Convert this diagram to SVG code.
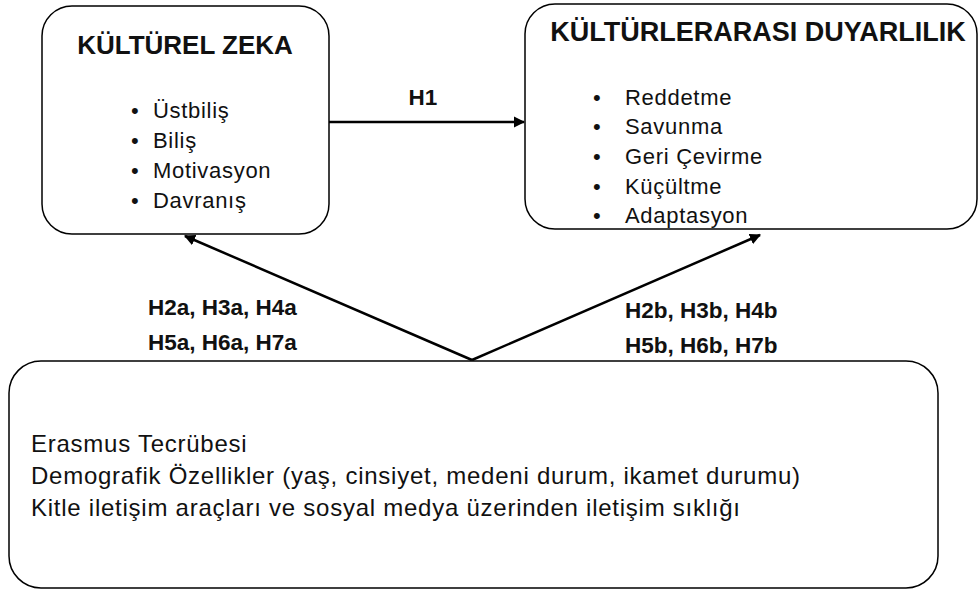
<svg xmlns="http://www.w3.org/2000/svg" width="980" height="592" viewBox="0 0 980 592">
<style>
.box{fill:#fff;stroke:#000;stroke-width:1.5}
.t{font-family:"Liberation Sans",Arial,sans-serif;fill:#111}
.title{font-weight:bold}
.item{font-size:22px;letter-spacing:0.7px}
.lab{font-size:22.5px;font-weight:bold}
.body{font-size:24px;letter-spacing:0.75px}
.edge{stroke:#000;stroke-width:2.5;fill:none}
</style>
<defs>
<marker id="ah" viewBox="0 0 10 10" refX="9" refY="5" markerWidth="4.5" markerHeight="4.5" orient="auto" markerUnits="strokeWidth">
<path d="M0,0 L10,5 L0,10 z" fill="#000"/>
</marker>
</defs>
<rect width="980" height="592" fill="#fff"/>
<g id="edges">
<line class="edge" x1="329" y1="122" x2="524" y2="122" marker-end="url(#ah)"/>
<line class="edge" x1="472" y1="360" x2="185" y2="236" marker-end="url(#ah)"/>
<line class="edge" x1="472" y1="360" x2="760" y2="235" marker-end="url(#ah)"/>
<text class="t lab" x="423" y="105" text-anchor="middle">H1</text>
<text class="t lab" x="148" y="315">H2a, H3a, H4a</text>
<text class="t lab" x="148" y="350">H5a, H6a, H7a</text>
<text class="t lab" x="625" y="318">H2b, H3b, H4b</text>
<text class="t lab" x="625" y="353">H5b, H6b, H7b</text>
</g>
<g id="kulturel-zeka">
<rect class="box" x="42" y="6" width="287" height="228" rx="30"/>
<text class="t title" x="185" y="54" text-anchor="middle" font-size="26">KÜLTÜREL ZEKA</text>
<text class="t item" x="131" y="118">•</text>
<text class="t item" x="153" y="118">Üstbiliş</text>
<text class="t item" x="131" y="148">•</text>
<text class="t item" x="153" y="148">Biliş</text>
<text class="t item" x="131" y="178">•</text>
<text class="t item" x="153" y="178">Motivasyon</text>
<text class="t item" x="131" y="208">•</text>
<text class="t item" x="153" y="208">Davranış</text>
</g>
<g id="kulturlerarasi-duyarlilik">
<rect class="box" x="525" y="4" width="452" height="225" rx="30"/>
<text class="t title" x="758" y="41" text-anchor="middle" font-size="27">KÜLTÜRLERARASI DUYARLILIK</text>
<text class="t item" x="593" y="105">•</text>
<text class="t item" x="625" y="105">Reddetme</text>
<text class="t item" x="593" y="134">•</text>
<text class="t item" x="625" y="134">Savunma</text>
<text class="t item" x="593" y="164">•</text>
<text class="t item" x="625" y="164">Geri Çevirme</text>
<text class="t item" x="593" y="194">•</text>
<text class="t item" x="625" y="194">Küçültme</text>
<text class="t item" x="593" y="223">•</text>
<text class="t item" x="625" y="223">Adaptasyon</text>
</g>
<g id="degiskenler">
<rect class="box" x="9" y="361" width="929" height="227" rx="32"/>
<text class="t body" x="31" y="452">Erasmus Tecrübesi</text>
<text class="t body" x="31" y="484">Demografik Özellikler (yaş, cinsiyet, medeni durum, ikamet durumu)</text>
<text class="t body" x="31" y="516">Kitle iletişim araçları ve sosyal medya üzerinden iletişim sıklığı</text>
</g>
</svg>
